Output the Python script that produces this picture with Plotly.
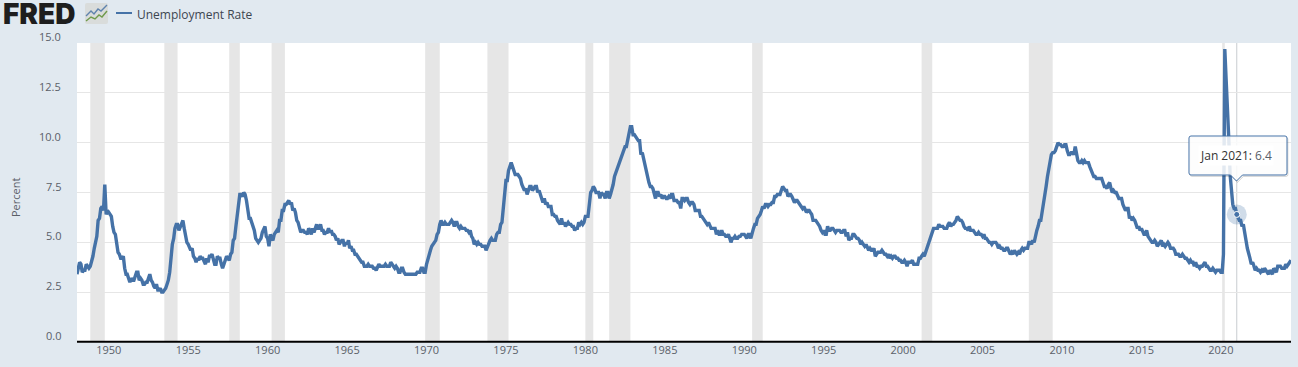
import base64
import pandas as pd
import plotly.graph_objects as go

# Monthly unemployment rate, percent
rate_1948_1959 = [3.4,3.8,4.0,3.9,3.5,3.6,3.6,3.9,3.8,3.7,3.8,4.0,
 4.3,4.7,5.0,5.3,6.1,6.2,6.7,6.8,6.6,7.9,6.4,6.6,
 6.5,6.4,6.3,5.8,5.5,5.4,5.0,4.5,4.4,4.2,4.2,4.3,
 3.7,3.4,3.4,3.1,3.0,3.2,3.1,3.1,3.3,3.5,3.5,3.1,
 3.2,3.1,2.9,2.9,3.0,3.0,3.2,3.4,3.1,3.0,2.8,2.7,
 2.9,2.6,2.6,2.7,2.5,2.5,2.6,2.7,2.9,3.1,3.5,4.5,
 4.9,5.2,5.7,5.9,5.9,5.6,5.8,6.0,6.1,5.7,5.3,5.0,
 4.9,4.7,4.6,4.7,4.3,4.2,4.0,4.2,4.1,4.3,4.2,4.2,
 4.0,3.9,4.2,4.0,4.3,4.3,4.4,4.1,3.9,3.9,4.3,4.2,
 4.2,3.9,3.7,3.9,4.1,4.3,4.2,4.1,4.4,4.5,5.1,5.2,
 5.8,6.4,6.7,7.4,7.4,7.3,7.5,7.4,7.1,6.7,6.2,6.2,
 6.0,5.9,5.6,5.2,5.1,5.0,5.1,5.2,5.5,5.7,5.8,5.3]
rate_1960_1969 = [5.2,4.8,5.4,5.2,5.1,5.4,5.5,5.6,5.5,6.1,6.1,6.6,
 6.6,6.9,6.9,7.0,7.1,6.9,7.0,6.6,6.7,6.5,6.1,6.0,
 5.8,5.5,5.6,5.6,5.5,5.5,5.4,5.7,5.6,5.4,5.7,5.5,
 5.7,5.9,5.7,5.7,5.9,5.6,5.6,5.4,5.5,5.5,5.7,5.5,
 5.6,5.4,5.4,5.3,5.1,5.2,4.9,5.0,5.1,5.1,4.8,5.0,
 4.9,5.1,4.7,4.8,4.6,4.6,4.4,4.4,4.3,4.2,4.1,4.0,
 4.0,3.8,3.8,3.8,3.9,3.8,3.8,3.8,3.7,3.7,3.6,3.8,
 3.9,3.8,3.8,3.8,3.8,3.9,3.8,3.8,3.8,4.0,3.9,3.8,
 3.7,3.8,3.7,3.5,3.5,3.7,3.7,3.5,3.4,3.4,3.4,3.4,
 3.4,3.4,3.4,3.4,3.4,3.5,3.5,3.5,3.7,3.7,3.5,3.5]
rate_1970_1979 = [3.9,4.2,4.4,4.6,4.8,4.9,5.0,5.1,5.4,5.5,5.9,6.1,
 5.9,5.9,6.0,5.9,5.9,5.9,6.0,6.1,6.0,5.8,6.0,6.0,
 5.8,5.7,5.8,5.7,5.7,5.7,5.6,5.6,5.5,5.6,5.3,5.2,
 4.9,5.0,4.9,5.0,4.9,4.9,4.8,4.8,4.8,4.6,4.8,4.9,
 5.1,5.2,5.1,5.1,5.1,5.4,5.5,5.5,5.9,6.0,6.6,7.2,
 8.1,8.1,8.6,8.8,9.0,8.8,8.6,8.4,8.4,8.4,8.3,8.2,
 7.9,7.7,7.6,7.7,7.4,7.6,7.8,7.8,7.6,7.7,7.8,7.8,
 7.5,7.6,7.4,7.2,7.0,7.2,6.9,7.0,6.8,6.8,6.8,6.4,
 6.4,6.3,6.3,6.1,6.0,5.9,6.2,5.9,6.0,5.8,5.9,6.0,
 5.9,5.9,5.8,5.8,5.6,5.7,5.7,6.0,5.9,6.0,5.9,6.0]
rate_1980_1989 = [6.3,6.3,6.3,6.9,7.5,7.6,7.8,7.7,7.5,7.5,7.5,7.2,
 7.5,7.4,7.4,7.2,7.5,7.5,7.2,7.4,7.6,7.9,8.3,8.5,
 8.6,8.9,9.0,9.3,9.4,9.6,9.8,9.8,10.1,10.4,10.8,10.8,
 10.4,10.4,10.3,10.2,10.1,10.1,9.4,9.5,9.2,8.8,8.5,8.3,
 8.0,7.8,7.8,7.7,7.4,7.2,7.5,7.5,7.3,7.4,7.2,7.3,
 7.3,7.2,7.2,7.3,7.2,7.4,7.4,7.1,7.1,7.1,7.0,7.0,
 6.7,7.2,7.2,7.1,7.2,7.2,7.0,6.9,7.0,7.0,6.9,6.6,
 6.6,6.6,6.6,6.3,6.3,6.2,6.1,6.0,5.9,6.0,5.8,5.7,
 5.7,5.7,5.7,5.4,5.6,5.4,5.4,5.6,5.4,5.4,5.3,5.3,
 5.4,5.2,5.0,5.2,5.2,5.3,5.2,5.2,5.3,5.3,5.4,5.4]
rate_1990_1999 = [5.4,5.3,5.2,5.4,5.4,5.2,5.5,5.7,5.9,5.9,6.2,6.3,
 6.4,6.6,6.8,6.7,6.9,6.9,6.8,6.9,6.9,7.0,7.0,7.3,
 7.3,7.4,7.4,7.4,7.6,7.8,7.7,7.6,7.6,7.3,7.4,7.4,
 7.3,7.1,7.0,7.1,7.1,7.0,6.9,6.8,6.7,6.8,6.6,6.5,
 6.6,6.6,6.5,6.4,6.1,6.1,6.1,6.0,5.9,5.8,5.6,5.5,
 5.6,5.4,5.4,5.8,5.6,5.6,5.7,5.7,5.6,5.5,5.6,5.6,
 5.6,5.5,5.5,5.6,5.6,5.3,5.5,5.1,5.2,5.2,5.4,5.4,
 5.3,5.2,5.2,5.1,4.9,5.0,4.9,4.8,4.9,4.7,4.6,4.7,
 4.6,4.6,4.7,4.3,4.4,4.5,4.5,4.5,4.6,4.5,4.4,4.4,
 4.3,4.4,4.2,4.3,4.2,4.3,4.3,4.2,4.2,4.1,4.1,4.0]
rate_2000_2009 = [4.0,4.1,4.0,3.8,4.0,4.0,4.0,4.1,3.9,3.9,3.9,3.9,
 4.2,4.2,4.3,4.4,4.3,4.5,4.6,4.9,5.0,5.3,5.5,5.7,
 5.7,5.7,5.7,5.9,5.8,5.8,5.8,5.7,5.7,5.7,5.9,6.0,
 5.8,5.9,5.9,6.0,6.1,6.3,6.2,6.1,6.1,6.0,5.8,5.7,
 5.7,5.6,5.8,5.6,5.6,5.6,5.5,5.4,5.4,5.5,5.4,5.4,
 5.3,5.4,5.2,5.2,5.1,5.0,5.0,4.9,5.0,5.0,5.0,4.9,
 4.7,4.8,4.7,4.7,4.6,4.6,4.7,4.7,4.5,4.4,4.5,4.4,
 4.6,4.5,4.4,4.5,4.4,4.6,4.7,4.6,4.7,4.7,4.7,5.0,
 5.0,4.9,5.1,5.0,5.4,5.6,5.8,6.1,6.1,6.5,6.8,7.3,
 7.8,8.3,8.7,9.0,9.4,9.5,9.5,9.6,9.8,10.0,9.9,9.9]
rate_2010_2019 = [9.8,9.8,9.9,9.9,9.6,9.4,9.4,9.5,9.5,9.4,9.8,9.3,
 9.1,9.0,9.0,9.1,9.0,9.1,9.0,9.0,9.0,8.8,8.6,8.5,
 8.3,8.3,8.2,8.2,8.2,8.2,8.2,8.0,7.8,7.8,7.7,7.9,
 8.0,7.7,7.5,7.6,7.5,7.5,7.3,7.2,7.2,7.2,6.9,6.7,
 6.6,6.7,6.7,6.2,6.3,6.1,6.2,6.1,5.9,5.7,5.8,5.6,
 5.7,5.5,5.4,5.4,5.6,5.3,5.2,5.1,5.0,5.0,5.1,5.0,
 4.8,4.9,5.0,5.1,4.8,4.9,4.8,4.9,5.0,4.9,4.7,4.7,
 4.7,4.6,4.4,4.4,4.4,4.3,4.3,4.4,4.3,4.2,4.2,4.1,
 4.0,4.1,4.0,4.0,3.8,4.0,3.8,3.8,3.7,3.8,3.8,3.9,
 4.0,3.8,3.8,3.7,3.6,3.6,3.7,3.6,3.5,3.6,3.6,3.6]
rate_2020_2024 = [3.5,3.5,4.4,14.7,13.2,11.0,10.2,8.4,7.8,6.9,6.7,6.7,
 6.4,6.2,6.1,6.1,5.8,5.9,5.4,5.1,4.7,4.5,4.2,3.9,
 4.0,3.8,3.6,3.7,3.6,3.6,3.5,3.6,3.5,3.7,3.6,3.5,
 3.4,3.6,3.5,3.4,3.7,3.6,3.5,3.8,3.8,3.8,3.7,3.7,
 3.7,3.9,3.8,3.9,4.0,4.1]

recession_starts = ["1948-11","1953-07","1957-08","1960-04","1969-12","1973-11",
                    "1980-01","1981-07","1990-07","2001-03","2007-12","2020-02"]
recession_ends   = ["1949-10","1954-05","1958-04","1961-02","1970-11","1975-03",
                    "1980-07","1982-11","1991-03","2001-11","2009-06","2020-04"]

y_tick_values = [0, 2.5, 5, 7.5, 10, 12.5, 15]
y_tick_labels = ["0.0", "2.5", "5.0", "7.5", "10.0", "12.5", "15.0"]
x_tick_years = list(range(1950, 2021, 5))
series_name = "Unemployment Rate"
hover_date = "2021-01-01"
hover_value = 6.4

rates = (rate_1948_1959 + rate_1960_1969 + rate_1970_1979 + rate_1980_1989
         + rate_1990_1999 + rate_2000_2009 + rate_2010_2019 + rate_2020_2024)
dates = pd.date_range("1948-01-01", periods=len(rates), freq="MS")

FONT = "Open Sans, sans-serif"
BG = "#e1e9f0"
LINE = "#4572a7"
TICK = "#5a6068"

# Page-pixel helpers for the furniture around the plot
W, H = 1298, 367
ML, MR, MT, MB = 77, 7, 43, 25
PW, PH = W - ML - MR, H - MT - MB
def px(x): return (x - ML) / PW
def py(y): return (H - MB - y) / PH

def tooltip_path(dx=0, dy=0):
    l, r, t, b, c, tip = 1189 + dx, 1287 + dx, 136 + dy, 175 + dy, 1236.5 + dx, 181 + dy
    pts = [("M", l + 2, t), ("L", r - 2, t), ("Q", r, t, r, t + 2), ("L", r, b - 2), ("Q", r, b, r - 2, b),
           ("L", c + 6, b), ("L", c, tip), ("L", c - 6, b), ("L", l + 2, b), ("Q", l, b, l, b - 2),
           ("L", l, t + 2), ("Q", l, t, l + 2, t)]
    out = []
    for p in pts:
        coords = p[1:]
        xy = [f"{px(coords[i]):.5f} {py(coords[i + 1]):.5f}" for i in range(0, len(coords), 2)]
        out.append(p[0] + " " + " ".join(xy))
    return " ".join(out) + " Z"

fig = go.Figure()
fig.add_trace(go.Scatter(x=dates, y=rates, mode="lines", name=series_name,
                         line=dict(color=LINE, width=3.4), showlegend=False))
fig.add_trace(go.Scatter(x=[hover_date], y=[hover_value], mode="markers", showlegend=False,
                         marker=dict(size=20, color="rgba(69,114,167,0.25)"), hoverinfo="skip"))
fig.add_trace(go.Scatter(x=[hover_date], y=[hover_value], mode="markers", showlegend=False,
                         marker=dict(size=6, color=LINE, line=dict(color="white", width=1)), hoverinfo="skip"))

shapes = [dict(type="rect", xref="x", yref="paper", x0=s, x1=e, y0=0, y1=1,
               fillcolor="#e6e6e6", line_width=0, layer="between")
          for s, e in zip(recession_starts, recession_ends)]
shapes.append(dict(type="line", xref="x", yref="paper", x0=hover_date, x1=hover_date, y0=0, y1=1,
                   line=dict(color="#c8ccd0", width=1), layer="between"))
# axis baseline
shapes.append(dict(type="line", xref="paper", yref="paper", x0=0, x1=1, y0=py(341.7), y1=py(341.7),
                   line=dict(color="black", width=2)))
shapes.append(dict(type="line", xref="paper", yref="paper", x0=px(116), x1=px(132), y0=py(13), y1=py(13),
                   line=dict(color=LINE, width=2)))
shapes.append(dict(type="path", xref="paper", yref="paper", path=tooltip_path(1, 1.5),
                   fillcolor="rgba(0,0,0,0.05)", line=dict(color="rgba(0,0,0,0.12)", width=1)))
shapes.append(dict(type="path", xref="paper", yref="paper", path=tooltip_path(),
                   fillcolor="rgba(255,255,255,0.85)", line=dict(color=LINE, width=1)))
fig.update_layout(shapes=shapes)

annotations = []
for v, t in zip(y_tick_values, y_tick_labels):
    annotations.append(dict(xref="paper", yref="y", x=px(62.5), y=v, text=t, showarrow=False,
                            xanchor="right", yanchor="middle", yshift=6.5,
                            font=dict(family=FONT, size=11, color=TICK)))
annotations.append(dict(xref="paper", yref="paper", x=px(135), y=py(14),
                        text=series_name, showarrow=False, xanchor="left", yanchor="middle",
                        font=dict(family=FONT, size=12, color="#3d4650")))
annotations.append(dict(xref="paper", yref="paper", x=px(15), y=py(198),
                        text="Percent", showarrow=False, textangle=-90, xanchor="center", yanchor="middle",
                        font=dict(family=FONT, size=11, color=TICK)))
annotations.append(dict(xref="paper", yref="paper", x=px(1), y=py(14),
                        text="FRED", showarrow=False, xanchor="left", yanchor="middle",
                        font=dict(family="Inter, Liberation Sans, sans-serif", size=28, weight=900, color="#1e1e1e")))
annotations.append(dict(xref="paper", yref="paper", x=px(1236), y=py(155),
                        text='<span style="color:#333333">Jan 2021:</span> 6.4', showarrow=False,
                        xanchor="center", yanchor="middle", bgcolor="white", borderpad=1,
                        font=dict(family=FONT, size=12, color="#5a6068")))
fig.update_layout(annotations=annotations)

icon = ('<svg xmlns="http://www.w3.org/2000/svg" width="23" height="21">'
        '<rect width="23" height="21" rx="2" fill="#d9dcdb"/>'
        '<polyline points="1,13 6,8 9,11 13,6 16,8 22,2" fill="none" stroke="#5f83ad" stroke-width="1.4"/>'
        '<polyline points="1,18 6,14 10,16 14,12 17,14 22,8" fill="none" stroke="#6f9a4c" stroke-width="1.4"/>'
        '</svg>')
fig.update_layout(images=[dict(source="data:image/svg+xml;base64," + base64.b64encode(icon.encode()).decode(),
                               xref="paper", yref="paper", x=px(85), y=py(3),
                               sizex=23 / PW, sizey=21 / PH, xanchor="left", yanchor="top",
                               layer="above", sizing="stretch")])

fig.update_layout(
    width=W, height=H, margin=dict(l=ML, r=MR, t=MT, b=MB),
    paper_bgcolor=BG, plot_bgcolor="white", showlegend=False,
    font=dict(family=FONT, size=11, color=TICK),
    xaxis=dict(type="date", range=["1948-01-01", "2024-06-01"],
               tickmode="array", tickvals=[f"{y}-01-01" for y in x_tick_years],
               ticktext=[str(y) for y in x_tick_years], showgrid=False,
               showline=False, ticks="", zeroline=False,
               tickfont=dict(family=FONT, size=11, color=TICK)),
    yaxis=dict(range=[0, 15], tickmode="array", tickvals=y_tick_values, showticklabels=False,
               showgrid=True, gridcolor="#e6e6e6", gridwidth=1, zeroline=False, ticks=""),
)

fig.write_html("out.html", config=dict(displayModeBar=False),
               post_script="document.body.style.margin='0';document.body.style.overflow='hidden';")
